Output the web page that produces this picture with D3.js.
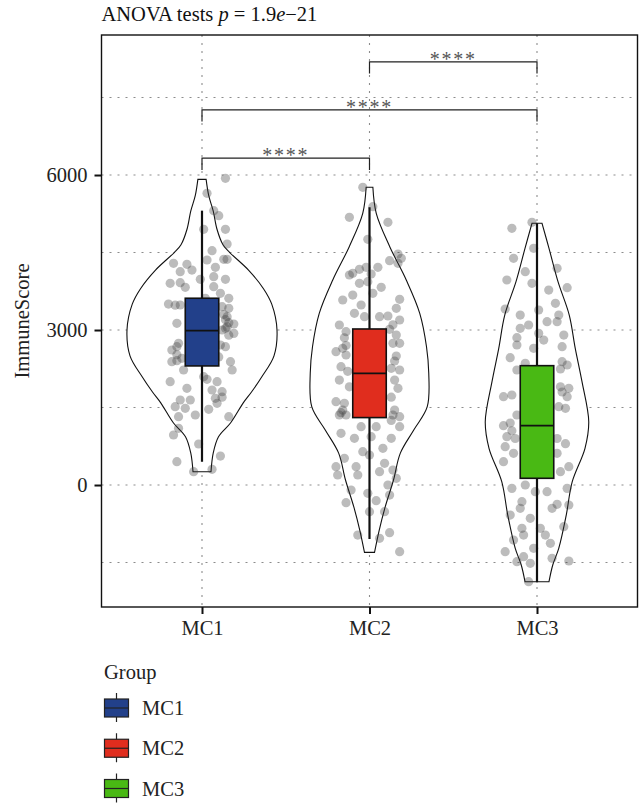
<!DOCTYPE html>
<html>
<head>
<meta charset="utf-8">
<script src="https://cdn.jsdelivr.net/npm/d3@7"></script>
<style>
  body { margin: 0; background: #fff; }
  svg text { font-family: "Liberation Serif", "DejaVu Serif", serif; }
</style>
</head>
<body>
<svg id="chart" width="640" height="803"></svg>
<script>
var groups = ["MC1", "MC2", "MC3"];
var colors = ["#22408a", "#e02d1e", "#49b914"];
var yTicks = [0, 3000, 6000];
var yGrid = [-1500, 0, 1500, 3000, 4500, 6000, 7500];

// box stats: [lower whisker, q1, median, q3, upper whisker]
var boxMC1 = [450, 2305, 2990, 3615, 5310];
var boxMC2 = [-1045, 1305, 2160, 3020, 5375];
var boxMC3 = [-1884, 130, 1148, 2310, 5065];

// violin outlines: [value, relative density]
var violinMC1 = [[5916, 0.055], [5600, 0.09], [5300, 0.15], [4950, 0.2], [4650, 0.28], [4500, 0.37],
  [4160, 0.62], [3800, 0.82], [3500, 0.93], [3000, 1.0], [2500, 0.96], [2100, 0.8], [1800, 0.66],
  [1590, 0.55], [1200, 0.38], [935, 0.22], [620, 0.15], [258, 0.12]];
var violinMC2 = [[5762, 0.045], [5258, 0.09], [4613, 0.27], [3968, 0.49], [3323, 0.67], [2677, 0.76],
  [2167, 0.79], [1516, 0.77], [1065, 0.59], [613, 0.41], [97, 0.32], [-419, 0.21], [-871, 0.13],
  [-1303, 0.067]];
var violinMC3 = [[5065, 0.067], [4581, 0.16], [3935, 0.28], [3290, 0.43], [2645, 0.51], [2000, 0.6],
  [1226, 0.69], [710, 0.64], [65, 0.47], [-581, 0.39], [-1226, 0.29], [-1548, 0.21], [-1871, 0.16]];

// jittered points: [offset in category steps, ImmuneScore]
var pointsMC1 = [[0.14, 5936], [0.03, 5646], [0.07, 5310], [0.10, 5213], [0.01, 4948], [0.14, 4948],
  [0.15, 4665], [0.06, 4535], [0.13, 4368], [0.03, 4355], [0.15, 4368], [-0.17, 4290], [-0.09, 4271],
  [-0.06, 4161], [-0.13, 4129], [0.08, 4213], [-0.01, 3981], [0.07, 4032], [0.14, 3981], [-0.19, 3903],
  [-0.13, 3916], [-0.10, 3826], [0.07, 3839], [0.11, 3710], [0.02, 3613], [0.16, 3613], [-0.20, 3503],
  [-0.13, 3484], [0.12, 3452], [0.16, 3419], [0.15, 3258], [0.19, 3116], [0.16, 3142], [0.14, 3032],
  [0.19, 2935], [-0.15, 3129], [0.12, 3000], [-0.14, 2742], [-0.15, 2677], [-0.18, 2613], [0.11, 2710],
  [0.14, 2677], [-0.12, 2452], [-0.18, 2387], [-0.15, 2406], [0.17, 2387], [0.18, 2226], [-0.11, 2226],
  [0.01, 2097], [0.03, 2045], [0.09, 2000], [-0.19, 2000], [-0.09, 1871], [0.06, 1839], [0.12, 1806],
  [0.08, 1677], [0.09, 1581], [-0.13, 1645], [-0.07, 1645], [-0.16, 1516], [-0.10, 1484], [0.04, 1465],
  [-0.04, 1355], [-0.14, 1323], [0.16, 1323], [-0.14, 1097], [-0.17, 968], [-0.02, 794], [0.11, 561],
  [-0.15, 452], [-0.05, 258], [0.06, 303], [0.13, 3300], [0.14, 3200], [-0.02, 3100], [0.05, 2600],
  [0.15, 3060], [0.16, 2900], [-0.16, 3480], [-0.15, 2520], [0.10, 2480], [0.12, 1700]];
var pointsMC2 = [[-0.04, 5762], [0.02, 5387], [-0.12, 5181], [0.11, 5084], [-0.01, 4755], [0.17, 4471],
  [0.12, 4342], [0.19, 4387], [0.17, 4290], [-0.10, 4097], [-0.06, 4174], [-0.02, 4213], [0.05, 4213],
  [0.01, 4084], [-0.12, 4065], [-0.06, 3903], [0.07, 3826], [-0.01, 3935], [-0.16, 3581], [-0.10, 3677],
  [0.02, 3710], [-0.05, 3484], [0.16, 3419], [0.18, 3594], [-0.09, 3323], [-0.03, 3258], [0.06, 3258],
  [0.11, 3271], [0.18, 3194], [-0.18, 3097], [-0.14, 2968], [0.12, 3013], [0.16, 2903], [-0.20, 2581],
  [-0.16, 2645], [-0.14, 2516], [0.14, 2742], [0.18, 2742], [0.16, 2497], [-0.17, 2290], [0.13, 2258],
  [0.18, 2226], [-0.18, 2032], [0.15, 2032], [0.17, 1871], [-0.20, 1613], [-0.15, 1581], [-0.18, 1355],
  [-0.14, 1355], [0.15, 1452], [0.14, 1355], [0.18, 1323], [-0.05, 1129], [0.04, 1129], [0.18, 1129],
  [-0.17, 1000], [-0.09, 903], [0.01, 935], [0.13, 903], [0.08, 710], [-0.04, 645], [0.00, 581],
  [-0.15, 516], [-0.20, 355], [-0.08, 355], [0.09, 419], [0.14, 290], [-0.19, 194], [-0.07, 194],
  [0.16, 129], [0.06, 258], [-0.11, -97], [0.11, 0], [-0.01, -161], [0.04, -303], [-0.14, -342],
  [0.12, -194], [0.00, -516], [0.09, -516], [-0.07, -968], [0.06, -1032], [0.12, -923], [0.18, -1290],
  [-0.15, 2850], [-0.13, 2200], [0.13, 1700], [-0.16, 1450], [-0.14, 2700], [-0.17, 1400],
  [0.15, 2400], [0.13, 1250], [-0.12, 1900], [0.14, 3100]];
var pointsMC3 = [[-0.03, 5084], [-0.15, 4968], [-0.02, 4581], [-0.14, 4387], [0.12, 4194], [-0.07, 4129],
  [-0.18, 3968], [-0.03, 3903], [0.18, 3819], [0.07, 3774], [-0.19, 3406], [0.11, 3516], [-0.10, 3290],
  [0.13, 3290], [0.01, 3387], [-0.05, 3097], [0.06, 3161], [-0.10, 3032], [0.12, 3161], [-0.12, 2852],
  [0.01, 2935], [0.04, 2806], [0.16, 2903], [-0.12, 2710], [-0.02, 2645], [0.15, 2677], [-0.16, 2465],
  [0.15, 2387], [0.18, 2323], [-0.07, 2355], [-0.12, 2226], [0.14, 2245], [0.19, 1871], [0.18, 1710],
  [-0.20, 1710], [-0.15, 1742], [-0.12, 1355], [0.17, 1484], [0.13, 1516], [-0.20, 1148], [-0.18, 935],
  [-0.19, 742], [-0.14, 613], [-0.20, 452], [0.12, 613], [0.19, 355], [0.14, 258], [-0.15, -65],
  [-0.07, 0], [-0.01, -129], [0.18, -65], [0.06, -129], [-0.09, -323], [0.12, -374], [0.19, -387],
  [-0.16, -581], [-0.10, -452], [-0.04, -645], [0.09, -452], [-0.09, -839], [0.02, -839], [0.16, -806],
  [-0.08, -968], [0.05, -968], [-0.14, -1065], [0.08, -1129], [-0.19, -1290], [-0.08, -1387],
  [-0.02, -1226], [0.09, -1419], [0.19, -1471], [-0.12, -1484], [-0.04, -1516], [-0.05, -1871],
  [-0.16, 1200], [-0.15, 1050], [-0.13, 900], [0.17, 800], [0.15, 1800], [0.14, 1900], [0.12, 900]];

// comparisons: [from, to, bracket height]
var comparisons = [["MC2", "MC3", 8190], ["MC1", "MC3", 7260], ["MC1", "MC2", 6325]];
var sigLabel = "****";

var boxes = [boxMC1, boxMC2, boxMC3];
var violins = [violinMC1, violinMC2, violinMC3];
var points = [pointsMC1, pointsMC2, pointsMC3];

var svg = d3.select("#chart");
var panelLeft = 101.5, panelRight = 637.5, panelTop = 35, panelBottom = 607;
var fontSize = 20.5;

var x = d3.scalePoint().domain(groups).range([panelLeft, panelRight]).padding(0.6);
var step = x.step();
var y = d3.scaleLinear().domain([-2361, 8710]).range([panelBottom, panelTop]);
var w = d3.scaleLinear().domain([0, 1]).range([0, 75]);

// grid
var grid = svg.append("g").attr("stroke", "#8c8c8c").attr("stroke-width", 1.1)
  .attr("stroke-dasharray", "2,6");
grid.selectAll(".gy").data(yGrid).enter().append("line")
  .attr("x1", panelLeft).attr("x2", panelRight)
  .attr("y1", function(d) { return y(d); }).attr("y2", function(d) { return y(d); });
grid.selectAll(".gx").data(groups).enter().append("line")
  .attr("y1", panelTop).attr("y2", panelBottom)
  .attr("x1", function(d) { return x(d); }).attr("x2", function(d) { return x(d); });

// violins
groups.forEach(function(g, i) {
  var cx = x(g);
  var area = d3.area()
    .y(function(d) { return y(d[0]); })
    .x0(function(d) { return cx - w(d[1]); })
    .x1(function(d) { return cx + w(d[1]); })
    .curve(d3.curveCatmullRom);
  svg.append("path").datum(violins[i]).attr("d", area)
    .attr("fill", "#fff").attr("stroke", "#111").attr("stroke-width", 1.1);
});

// jitter points
groups.forEach(function(g, i) {
  svg.append("g").selectAll("circle").data(points[i]).enter().append("circle")
    .attr("cx", function(d) { return x(g) + d[0] * step; })
    .attr("cy", function(d) { return y(d[1]); })
    .attr("r", 4.6)
    .attr("fill", "#3a3a3a").attr("fill-opacity", 0.34);
});

// boxplots
var bw = 0.2 * step;
groups.forEach(function(g, i) {
  var b = boxes[i], cx = x(g);
  svg.append("line").attr("x1", cx).attr("x2", cx).attr("y1", y(b[0])).attr("y2", y(b[4]))
    .attr("stroke", "#111").attr("stroke-width", 2.2);
  svg.append("rect").attr("x", cx - bw / 2).attr("width", bw)
    .attr("y", y(b[3])).attr("height", y(b[1]) - y(b[3]))
    .attr("fill", colors[i]).attr("stroke", "#111").attr("stroke-width", 1.6);
  svg.append("line").attr("x1", cx - bw / 2).attr("x2", cx + bw / 2)
    .attr("y1", y(b[2])).attr("y2", y(b[2]))
    .attr("stroke", "#111").attr("stroke-width", 1.8);
});

// panel border
svg.append("rect").attr("x", panelLeft).attr("y", panelTop)
  .attr("width", panelRight - panelLeft).attr("height", panelBottom - panelTop)
  .attr("fill", "none").attr("stroke", "#111").attr("stroke-width", 1.4);

// axes
var yAxis = svg.append("g").attr("transform", "translate(" + panelLeft + ",0)")
  .call(d3.axisLeft(y).tickValues(yTicks).tickSize(7).tickPadding(7).tickFormat(d3.format("d")));
var xAxis = svg.append("g").attr("transform", "translate(0," + panelBottom + ")")
  .call(d3.axisBottom(x).tickSize(7).tickPadding(6));
[yAxis, xAxis].forEach(function(a) {
  a.select(".domain").remove();
  a.selectAll(".tick line").attr("stroke", "#111").attr("stroke-width", 2);
  a.selectAll(".tick text").attr("font-size", fontSize).attr("fill", "#222")
    .attr("font-family", "Liberation Serif");
});

svg.append("text").attr("transform", "translate(29," + ((panelTop + panelBottom) / 2) + ") rotate(-90)")
  .attr("text-anchor", "middle").attr("font-size", fontSize).attr("fill", "#222").text("ImmuneScore");

// title
var title = svg.append("text").attr("x", panelLeft).attr("y", 21).attr("font-size", fontSize).attr("fill", "#111");
title.append("tspan").text("ANOVA tests ");
title.append("tspan").attr("font-style", "italic").text("p");
title.append("tspan").text(" = 1.9");
title.append("tspan").attr("font-style", "italic").text("e");
title.append("tspan").text("\u221221");

// significance brackets
var drop = 226;
comparisons.forEach(function(c) {
  var x1 = x(c[0]), x2 = x(c[1]);
  var path = d3.path();
  path.moveTo(x1, y(c[2] - drop));
  path.lineTo(x1, y(c[2]));
  path.lineTo(x2, y(c[2]));
  path.lineTo(x2, y(c[2] - drop));
  svg.append("path").attr("d", path.toString()).attr("fill", "none")
    .attr("stroke", "#222").attr("stroke-width", 1.2);
  svg.append("text").attr("x", (x1 + x2) / 2).attr("y", y(c[2]) + 4)
    .attr("text-anchor", "middle").attr("font-size", 20).attr("fill", "#555")
    .attr("letter-spacing", 1.8).text(sigLabel);
});

// legend
var legend = svg.append("g").attr("transform", "translate(104,0)");
legend.append("text").attr("x", 0).attr("y", 679).attr("font-size", fontSize).attr("fill", "#222").text("Group");
var keyY = d3.scalePoint().domain(groups).range([708, 788.5]);
groups.forEach(function(g, i) {
  var cy = keyY(g);
  var k = legend.append("g");
  k.append("line").attr("x1", 12.5).attr("x2", 12.5).attr("y1", cy - 15).attr("y2", cy + 14)
    .attr("stroke", "#222").attr("stroke-width", 1.2);
  k.append("rect").attr("x", 0.5).attr("y", cy - 9).attr("width", 24).attr("height", 18)
    .attr("fill", colors[i]).attr("stroke", "#222").attr("stroke-width", 1.2);
  k.append("line").attr("x1", 0.5).attr("x2", 24.5).attr("y1", cy).attr("y2", cy)
    .attr("stroke", "#222").attr("stroke-width", 1.2);
  legend.append("text").attr("x", 38).attr("y", cy + 7).attr("font-size", fontSize).attr("fill", "#222").text(g);
});
</script>
</body>
</html>
